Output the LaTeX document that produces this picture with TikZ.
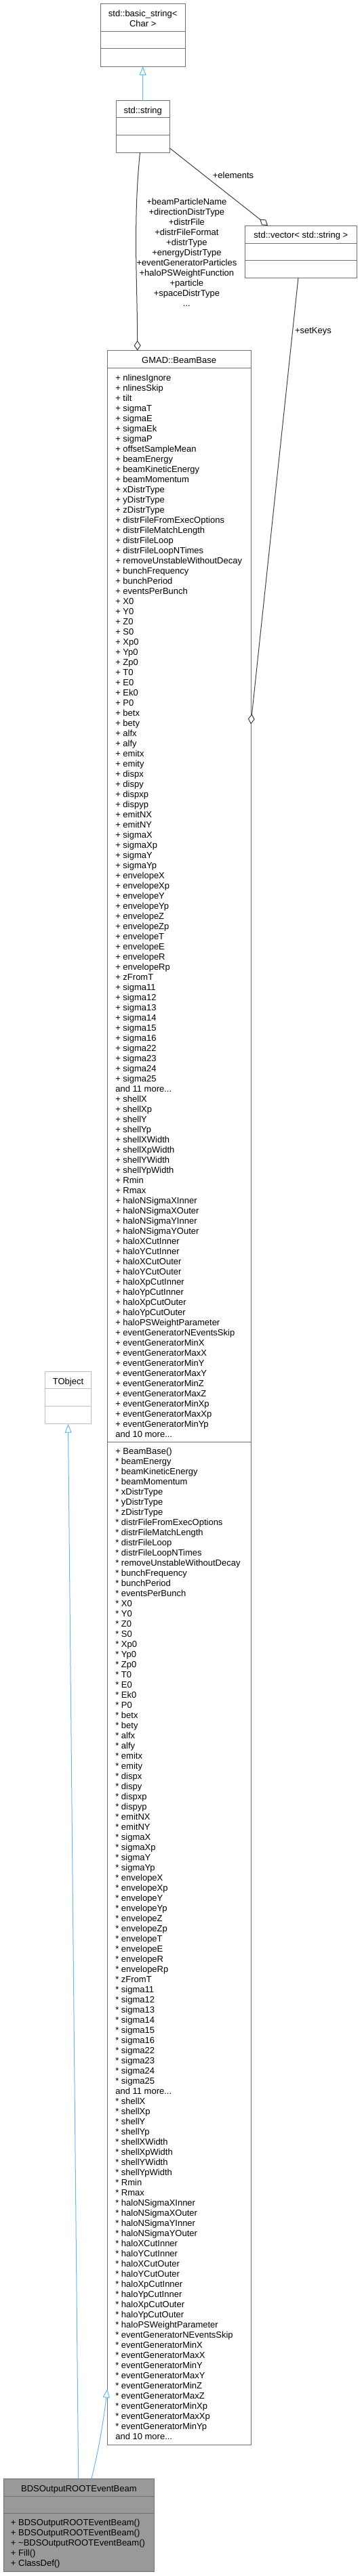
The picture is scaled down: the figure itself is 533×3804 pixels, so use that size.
\documentclass[tikz,border=0pt]{standalone}
\usepackage{fontspec}
\setmainfont{Liberation Sans}
\usetikzlibrary{arrows.meta}
\definecolor{boxline}{HTML}{707070}
\definecolor{extline}{HTML}{BFBFBF}
\definecolor{inh}{HTML}{63B8FF}
\definecolor{assoc}{HTML}{404040}
\definecolor{curfill}{HTML}{999999}
\newcommand\mydots{...}
\begin{document}
\begin{tikzpicture}[x=1pt,y=-1pt,font=\fontsize{13}{15}\selectfont,
  umlbox/.style={draw=boxline, fill=white, line width=1pt, inner sep=0pt, outer sep=0pt, anchor=north west},
  divider/.style={draw=boxline, line width=1pt},
  txt/.style={inner sep=0pt, outer sep=0pt, anchor=base west},
  ttl/.style={inner sep=0pt, outer sep=0pt, anchor=base},
  inhline/.style={draw=inh, line width=1pt, -{Triangle[open, length=13pt, width=10pt, fill=white]}},
  assocline/.style={draw=assoc, line width=1pt, -{Diamond[open, length=15pt, width=10pt, fill=white]}},
  elabel/.style={inner sep=0pt, outer sep=0pt, text=black}]
\useasboundingbox (0,0) rectangle (533,3804);
\fill[white] (0,0) rectangle (533,3804);

% std::basic_string< Char >
\node[umlbox, minimum width=125.3pt, minimum height=92.3pt] (bs) at (148,5.7) {};
\draw[divider] (148,46.7) -- (273.3,46.7);
\draw[divider] (148,71.7) -- (273.3,71.7);
\node[ttl] (bst1) at (210.7,24.6) {std::basic\_string<};
\node[ttl] (bst2) at (210.7,39.2) {Char >};

% std::string
\node[umlbox, minimum width=79.2pt, minimum height=76.6pt] (ss) at (171.1,148.7) {};
\draw[divider] (171.1,173.7) -- (250.3,173.7);
\draw[divider] (171.1,199.7) -- (250.3,199.7);
\node[ttl] (sst) at (210.7,167.4) {std::string};

% std::vector< std::string >
\node[umlbox, minimum width=165.7pt, minimum height=77pt] (vec) at (361,333) {};
\draw[divider] (361,359) -- (526.7,359);
\draw[divider] (361,384.7) -- (526.7,384.7);
\node[ttl] (vect) at (443.85,351.4) {std::vector< std::string >};

% GMAD::BeamBase
\node[umlbox, minimum width=211.7pt, minimum height=3092.3pt] (bb) at (158.3,517.7) {};
\draw[divider] (158.3,543.3) -- (370,543.3);
\draw[divider] (158.3,2129.3) -- (370,2129.3);
\node[ttl] (bbt) at (264.15,536.4) {GMAD::BeamBase};
\foreach \t [count=\i from 0] in {+ nlinesIgnore, + nlinesSkip, + tilt, + sigmaT, + sigmaE, + sigmaEk, + sigmaP, + offsetSampleMean,
 + beamEnergy, + beamKineticEnergy, + beamMomentum, + xDistrType, + yDistrType, + zDistrType, + distrFileFromExecOptions, + distrFileMatchLength, + distrFileLoop, + distrFileLoopNTimes, + removeUnstableWithoutDecay, + bunchFrequency, + bunchPeriod, + eventsPerBunch, + X0, + Y0, + Z0, + S0, + Xp0, + Yp0, + Zp0, + T0, + E0, + Ek0, + P0, + betx, + bety, + alfx, + alfy, + emitx, + emity, + dispx, + dispy, + dispxp, + dispyp, + emitNX, + emitNY, + sigmaX, + sigmaXp, + sigmaY, + sigmaYp, + envelopeX, + envelopeXp, + envelopeY, + envelopeYp, + envelopeZ, + envelopeZp, + envelopeT, + envelopeE, + envelopeR, + envelopeRp, + zFromT, + sigma11, + sigma12, + sigma13, + sigma14, + sigma15, + sigma16, + sigma22, + sigma23, + sigma24, + sigma25, and 11 more\mydots, + shellX, + shellXp, + shellY, + shellYp, + shellXWidth, + shellXpWidth, + shellYWidth, + shellYpWidth, + Rmin, + Rmax, + haloNSigmaXInner, + haloNSigmaXOuter, + haloNSigmaYInner, + haloNSigmaYOuter, + haloXCutInner, + haloYCutInner, + haloXCutOuter, + haloYCutOuter, + haloXpCutInner, + haloYpCutInner, + haloXpCutOuter, + haloYpCutOuter, + haloPSWeightParameter, + eventGeneratorNEventsSkip, + eventGeneratorMinX, + eventGeneratorMaxX, + eventGeneratorMinY, + eventGeneratorMaxY, + eventGeneratorMinZ, + eventGeneratorMaxZ, + eventGeneratorMinXp, + eventGeneratorMaxXp, + eventGeneratorMinYp, and 10 more\mydots}
  \node[txt] (ba\i) at (170.3,562.4+15*\i) {\t};
\foreach \t [count=\i from 0] in {+ BeamBase(),
 * beamEnergy, * beamKineticEnergy, * beamMomentum, * xDistrType, * yDistrType, * zDistrType, * distrFileFromExecOptions, * distrFileMatchLength, * distrFileLoop, * distrFileLoopNTimes, * removeUnstableWithoutDecay, * bunchFrequency, * bunchPeriod, * eventsPerBunch, * X0, * Y0, * Z0, * S0, * Xp0, * Yp0, * Zp0, * T0, * E0, * Ek0, * P0, * betx, * bety, * alfx, * alfy, * emitx, * emity, * dispx, * dispy, * dispxp, * dispyp, * emitNX, * emitNY, * sigmaX, * sigmaXp, * sigmaY, * sigmaYp, * envelopeX, * envelopeXp, * envelopeY, * envelopeYp, * envelopeZ, * envelopeZp, * envelopeT, * envelopeE, * envelopeR, * envelopeRp, * zFromT, * sigma11, * sigma12, * sigma13, * sigma14, * sigma15, * sigma16, * sigma22, * sigma23, * sigma24, * sigma25, and 11 more\mydots, * shellX, * shellXp, * shellY, * shellYp, * shellXWidth, * shellXpWidth, * shellYWidth, * shellYpWidth, * Rmin, * Rmax, * haloNSigmaXInner, * haloNSigmaXOuter, * haloNSigmaYInner, * haloNSigmaYOuter, * haloXCutInner, * haloYCutInner, * haloXCutOuter, * haloYCutOuter, * haloXpCutInner, * haloYpCutInner, * haloXpCutOuter, * haloYpCutOuter, * haloPSWeightParameter, * eventGeneratorNEventsSkip, * eventGeneratorMinX, * eventGeneratorMaxX, * eventGeneratorMinY, * eventGeneratorMaxY, * eventGeneratorMinZ, * eventGeneratorMaxZ, * eventGeneratorMinXp, * eventGeneratorMaxXp, * eventGeneratorMinYp, and 10 more\mydots}
  \node[txt] (bm\i) at (170.3,2147+15*\i) {\t};

% TObject
\node[umlbox, draw=extline, minimum width=67.6pt, minimum height=77.4pt] (tob) at (66.7,2025.3) {};
\draw[divider, draw=extline] (66.7,2050.7) -- (134.3,2050.7);
\draw[divider, draw=extline] (66.7,2076.3) -- (134.3,2076.3);
\node[ttl] (tobt) at (100.5,2044) {TObject};

% BDSOutputROOTEventBeam
\node[umlbox, fill=curfill, minimum width=222.7pt, minimum height=137.7pt] (bds) at (5,3660) {};
\draw[divider] (5,3686) -- (227.7,3686);
\draw[divider] (5,3711.7) -- (227.7,3711.7);
\node[ttl] (bdst) at (116.35,3679) {BDSOutputROOTEventBeam};
\foreach \t [count=\i from 0] in {+ BDSOutputROOTEventBeam(), + BDSOutputROOTEventBeam(), + \textasciitilde BDSOutputROOTEventBeam(), + Fill(), + ClassDef()}
  \node[txt] (bdm\i) at (16,3729.7+15*\i) {\t};

% connectors
\draw[inhline] (ss.north) -- (bs.south);
\draw[assocline] (ss.south -| 206.5,0) .. controls (196,330) and (202.7,420) .. (bb.north -| 202.7,0);
\draw[assocline] (ss.east |- 0,218.7) -- (vec.north -| 395,0);
\draw[assocline] (vec.south -| 440,0) -- (bb.east |- 0,1069.3);
\draw[inhline] (bds.north -| 115.7,0) -- (tob.south);
\draw[inhline] (bds.north -| 135,0) .. controls (145,3620) and (152,3580) .. (bb.west |- 0,3527.7);

% connector labels
\node[elabel, anchor=base] (lel) at (344,263.4) {+elements};
\node[elabel, anchor=base west] (lsk) at (435,492) {+setKeys};
\foreach \t [count=\i from 0] in {+beamParticleName, +directionDistrType, +distrFile, +distrFileFormat, +distrType, +energyDistrType, +eventGeneratorParticles, +haloPSWeightFunction, +particle, +spaceDistrType, \mydots}
  \node[elabel, anchor=base] (lsn\i) at (275.4,302+15*\i) {\t};
\end{tikzpicture}
\end{document}
